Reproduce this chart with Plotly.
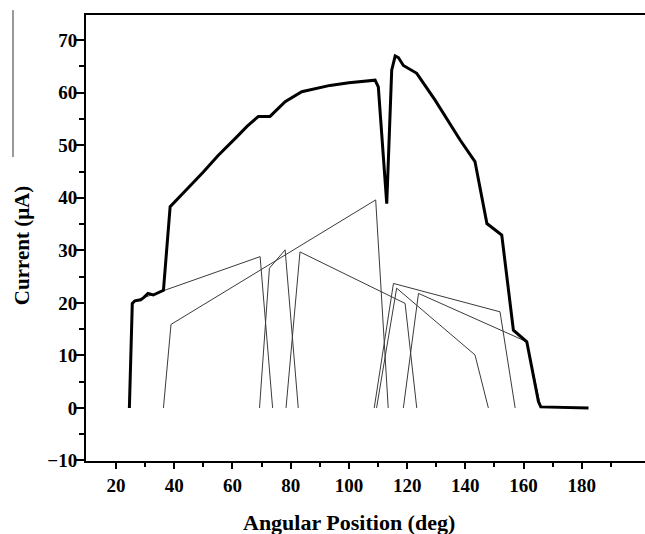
import plotly.graph_objects as go

# Total current (thick line)
total_x = [24.6, 25.6, 26.5, 28.5, 29.5, 31.0, 32.8, 36.3, 38.6, 42.0, 45.0, 50.0, 55.0, 61.5,
           65.0, 68.9, 72.9, 78.1, 83.8, 93.5, 100.0, 109.0, 110.1, 113.0, 114.7, 115.9,
           117.0, 118.7, 123.3, 129.6, 138.2, 143.3, 147.4, 152.5, 156.5, 161.1, 165.1,
           165.9, 182.3]
total_y = [0, 19.9, 20.4, 20.6, 21.0, 21.8, 21.5, 22.4, 38.3, 40.2, 42.0, 44.9, 48.0, 51.6,
           53.6, 55.5, 55.5, 58.3, 60.2, 61.4, 61.9, 62.4, 61.1, 38.9, 64.3, 67.0,
           66.7, 65.2, 63.7, 58.6, 51.0, 46.9, 35.1, 32.9, 14.8, 12.6, 1.2,
           0.2, 0.0]

# Individual coil currents (thin lines)
coil_a_x = [24.6, 25.6, 26.5, 69.5, 73.8]
coil_a_y = [0, 19.9, 20.4, 28.8, 0]
coil_b_x = [36.3, 38.9, 109.2, 113.5]
coil_b_y = [0, 15.9, 39.6, 0]
coil_c_x = [69.3, 72.7, 78.1, 82.6]
coil_c_y = [0, 26.6, 30.1, 0]
coil_d_x = [78.4, 83.2, 119.3, 123.3]
coil_d_y = [0, 29.7, 19.9, 0]
coil_e_x = [108.7, 115.3, 151.9, 157.1]
coil_e_y = [0, 23.7, 18.3, 0]
coil_f_x = [109.5, 116.4, 143.3, 147.9]
coil_f_y = [0, 22.8, 10.1, 0]
coil_g_x = [118.7, 123.9, 161.1, 165.9]
coil_g_y = [0, 21.8, 12.6, 0]

coils = [(coil_a_x, coil_a_y), (coil_b_x, coil_b_y), (coil_c_x, coil_c_y),
         (coil_d_x, coil_d_y), (coil_e_x, coil_e_y), (coil_f_x, coil_f_y),
         (coil_g_x, coil_g_y)]

x_ticks = [20, 40, 60, 80, 100, 120, 140, 160, 180]
x_minor = [30, 50, 70, 90, 110, 130, 150, 170, 190]
y_ticks = [-10, 0, 10, 20, 30, 40, 50, 60, 70]
y_minor = [-5, 5, 15, 25, 35, 45, 55, 65]

fig = go.Figure()
for cx, cy in coils:
    fig.add_trace(go.Scatter(x=cx, y=cy, mode="lines",
                             line=dict(color="#3a3a3a", width=1), showlegend=False))
fig.add_trace(go.Scatter(x=total_x, y=total_y, mode="lines",
                         line=dict(color="black", width=3), showlegend=False))

tickfont = dict(family="Liberation Serif", size=19, color="black", weight="bold")

fig.update_layout(
    width=645, height=534,
    margin=dict(l=86, r=0, t=15, b=73),
    paper_bgcolor="white", plot_bgcolor="white",
    xaxis=dict(range=[9.7, 201.7], tickvals=x_ticks, ticks="outside", ticklen=6, tickwidth=2,
               tickcolor="black", showline=True, linecolor="black", linewidth=2, mirror=True,
               showgrid=False, zeroline=False, tickfont=tickfont,
               minor=dict(tickvals=x_minor, ticks="outside", ticklen=4, tickwidth=1.5,
                          tickcolor="black", showgrid=False)),
    yaxis=dict(range=[-10.1, 74.8], tickvals=y_ticks, ticks="outside", ticklen=8, tickwidth=2,
               tickcolor="black", showline=True, linecolor="black", linewidth=2, mirror=False,
               showgrid=False, zeroline=False, tickfont=tickfont, ticklabelstandoff=-5,
               minor=dict(tickvals=y_minor, ticks="outside", ticklen=5, tickwidth=1.5,
                          tickcolor="black", showgrid=False)),
    annotations=[
        dict(text="<b>Angular Position (deg)</b>", xref="paper", yref="paper",
             x=0.4705, y=-0.1368, xanchor="center", yanchor="middle", showarrow=False,
             font=dict(family="Liberation Serif", size=22, color="black")),
        dict(text="<b>Current (μA)</b>", xref="paper", yref="paper",
             x=-0.1145, y=0.484, xanchor="center", yanchor="middle", showarrow=False,
             textangle=-90, font=dict(family="Liberation Serif", size=21, color="black")),
    ],
    shapes=[dict(type="line", xref="paper", yref="paper", x0=-0.1306, x1=-0.1306,
                 y0=1.011, y1=0.6816, line=dict(color="#333", width=1))],
)

fig.write_html("out.html")
